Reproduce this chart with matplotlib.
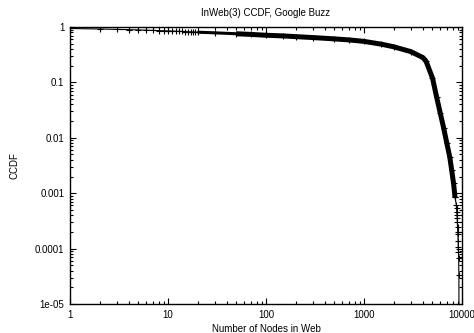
import matplotlib
matplotlib.use("Agg")
import matplotlib.pyplot as plt
from matplotlib.ticker import FixedLocator, LogLocator, NullFormatter

plt.rcParams['font.family'] = ['Liberation Sans', 'DejaVu Sans']

title = "InWeb(3) CCDF, Google Buzz"
xlabel = "Number of Nodes in Web"
ylabel = "CCDF"

# main curve
x_vals = [1, 2, 3, 4, 5, 6, 7, 8, 9, 10, 11, 12, 13, 14, 15, 16, 17, 18, 19, 20,
          30, 50, 70, 100, 150, 200, 300, 500, 700, 1000, 1500, 2000, 3000, 4000,
          4300, 5000, 5500, 6000, 6500, 7000, 7500, 7850, 8200, 8490]
y_vals = [0.94, 0.92, 0.905, 0.895, 0.885, 0.875, 0.868, 0.86, 0.855, 0.85, 0.845,
          0.84, 0.835, 0.83, 0.826, 0.822, 0.818, 0.814, 0.81, 0.806,
          0.785, 0.755, 0.735, 0.71, 0.69, 0.67, 0.645, 0.61, 0.585, 0.55, 0.49,
          0.44, 0.36, 0.28, 0.24, 0.12, 0.055, 0.028, 0.015, 0.008, 0.0045,
          0.0026, 0.0015, 0.00085]

# sparse tail
tail_x = [8490, 8750, 8800, 8850, 8880, 8920, 8960, 9000, 9050, 9080, 9120, 9160,
          9200, 9240, 9300, 9330]
tail_y = [0.00085, 6.1e-4, 5.4e-4, 4.6e-4, 4.1e-4, 3.6e-4, 3.0e-4, 2.5e-4, 2.0e-4,
          1.8e-4, 1.4e-4, 1.07e-4, 8.7e-5, 6.8e-5, 3.3e-5, 1e-7]

xticks = [1, 10, 100, 1000, 10000]
xticklabels = ["1", "10", "100", "1000", "10000"]
yticks = [1e-5, 1e-4, 1e-3, 1e-2, 1e-1, 1]
yticklabels = ["1e-05", "0.0001", "0.001", "0.01", "0.1", "1"]

fig = plt.figure(figsize=(4.74, 3.33), dpi=100)
ax = fig.add_axes([70/474, 1-304/333, 392/474, 277/333])

ax.plot(x_vals, y_vals, color='black', lw=0.8, marker='+', ms=5, mew=0.8)
mid = [(x, y) for x, y in zip(x_vals, y_vals) if 20 <= x <= 50]
ax.plot([d[0] for d in mid], [d[1] for d in mid], color='black', lw=2.2,
        solid_capstyle='butt')
dense = [(x, y) for x, y in zip(x_vals, y_vals) if x >= 50]
ax.plot([d[0] for d in dense], [d[1] for d in dense], color='black', lw=3.6,
        solid_capstyle='butt')
ax.plot(tail_x, tail_y, color='black', lw=0.8, marker='+', ms=5, mew=0.8)

ax.set_xscale('log')
ax.set_yscale('log')
ax.set_xlim(1, 10000)
ax.set_ylim(1e-5, 1)
ax.xaxis.set_major_locator(FixedLocator(xticks))
ax.set_xticklabels(xticklabels)
ax.yaxis.set_major_locator(FixedLocator(yticks))
ax.set_yticklabels(yticklabels)
ax.xaxis.set_minor_locator(LogLocator(base=10, subs=range(2, 10)))
ax.yaxis.set_minor_locator(LogLocator(base=10, subs=range(2, 10)))
ax.xaxis.set_minor_formatter(NullFormatter())
ax.yaxis.set_minor_formatter(NullFormatter())
ax.tick_params(which='both', direction='in', top=True, right=True, labelsize=7,
               width=0.8, colors='black')
ax.tick_params(which='major', length=4, pad=4)
ax.tick_params(which='minor', length=2)
for s in ax.spines.values():
    s.set_linewidth(1.0)

ax.set_title(title, fontsize=7, pad=8)
ax.set_xlabel(xlabel, fontsize=7, labelpad=3)
ax.set_ylabel(ylabel, fontsize=7, labelpad=11)

fig.savefig("out.png", dpi=100)
